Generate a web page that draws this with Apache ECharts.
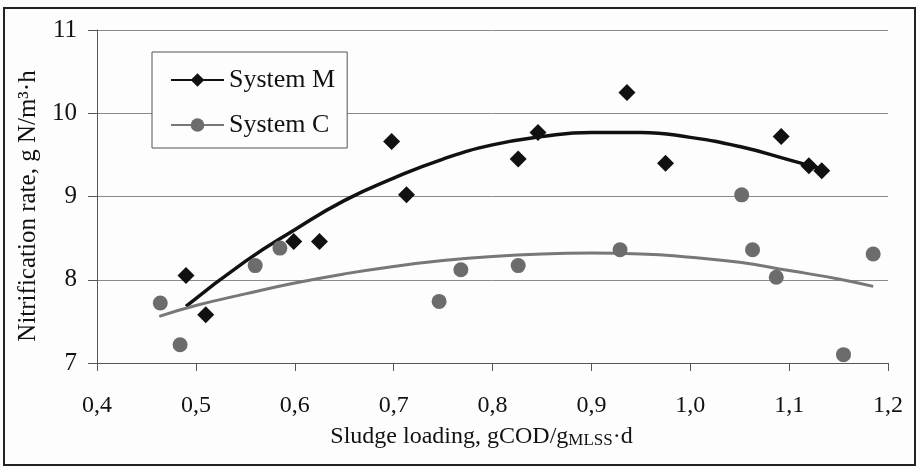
<!DOCTYPE html>
<html>
<head>
<meta charset="utf-8">
<title>Nitrification rate vs sludge loading</title>
<script src="https://cdn.jsdelivr.net/npm/echarts@6/dist/echarts.min.js"></script>
<style>
  html, body { margin: 0; padding: 0; background: #fff; }
  #chart { width: 920px; height: 471px; }
</style>
</head>
<body>
<div id="chart"></div>
<script>
// measured points (sludge loading, nitrification rate)
var loadM = [0.490, 0.510, 0.599, 0.625, 0.698, 0.713, 0.826, 0.846, 0.936, 0.975, 1.092, 1.120, 1.133];
var rateM = [8.05, 7.58, 8.46, 8.46, 9.66, 9.02, 9.45, 9.77, 10.25, 9.40, 9.72, 9.37, 9.31];

var loadC = [0.464, 0.484, 0.560, 0.585, 0.746, 0.768, 0.826, 0.929, 1.052, 1.063, 1.087, 1.155, 1.185];
var rateC = [7.72, 7.22, 8.17, 8.38, 7.74, 8.12, 8.17, 8.36, 9.02, 8.36, 8.03, 7.10, 8.31];

// trend lines
var trendLoadM = [0.49, 0.55, 0.60, 0.65, 0.70, 0.75, 0.80, 0.85, 0.90, 0.95, 1.00, 1.05, 1.10, 1.133];
var trendRateM = [7.68, 8.22, 8.60, 8.95, 9.22, 9.45, 9.62, 9.72, 9.77, 9.77, 9.71, 9.60, 9.44, 9.33];

var trendLoadC = [0.463, 0.50, 0.55, 0.60, 0.65, 0.70, 0.75, 0.80, 0.85, 0.90, 0.95, 1.00, 1.05, 1.10, 1.15, 1.185];
var trendRateC = [7.56, 7.69, 7.83, 7.96, 8.07, 8.16, 8.23, 8.28, 8.31, 8.32, 8.31, 8.27, 8.21, 8.11, 8.01, 7.92];

function pairs(xs, ys) {
  var out = [];
  for (var i = 0; i < xs.length; i++) out.push([xs[i], ys[i]]);
  return out;
}

var serif = '"Liberation Serif", "DejaVu Serif", serif';
var black = '#111';
var grey = '#6c6c6c';

var myChart = echarts.init(document.getElementById('chart'));
var option = {
  backgroundColor: '#fdfdfd',
  animation: false,
  textStyle: { fontFamily: serif, color: black },
  grid: { left: 97, right: 32, top: 30, bottom: 108, containLabel: false },
  graphic: [{
    type: 'rect',
    shape: { x: 4, y: 8, width: 911, height: 457 },
    style: { fill: 'none', stroke: '#222', lineWidth: 2 },
    silent: true
  }],
  legend: {
    left: 152, top: 52,
    orient: 'vertical',
    data: ['System M', 'System C'],
    itemWidth: 53, itemHeight: 17,
    itemGap: 19,
    padding: [15, 12, 10, 18],
    borderColor: '#555', borderWidth: 1,
    backgroundColor: '#fdfdfd',
    textStyle: { fontFamily: serif, fontSize: 26, color: black }
  },
  xAxis: {
    type: 'value',
    min: 0.4, max: 1.2, interval: 0.1,
    name: 'Sludge loading, gCOD/g{s|MLSS}·d',
    nameLocation: 'middle', nameGap: 62,
    nameTextStyle: {
      fontFamily: serif, fontSize: 24, color: black, padding: [0, 22, 0, 0],
      rich: { s: { fontFamily: serif, fontSize: 17, color: black, verticalAlign: 'bottom', padding: [7, 0, 0, 0] } }
    },
    axisLine: { lineStyle: { color: '#555', width: 1 } },
    axisTick: { show: true, length: 8, inside: false, lineStyle: { color: '#555' } },
    axisLabel: {
      fontFamily: serif, fontSize: 24, color: black, margin: 31,
      formatter: function (v) { return v.toFixed(1).replace('.', ','); }
    },
    splitLine: { show: false }
  },
  yAxis: {
    type: 'value',
    min: 7, max: 11, interval: 1,
    name: 'Nitrification rate, g N/m³·h',
    nameLocation: 'middle', nameGap: 50,
    nameTextStyle: { fontFamily: serif, fontSize: 25, color: black, padding: [0, 19, 0, 0] },
    axisLine: { show: true, lineStyle: { color: '#555', width: 1 } },
    axisTick: { show: true, length: 9, lineStyle: { color: '#555' } },
    axisLabel: { fontFamily: serif, fontSize: 25, color: black, margin: 20 },
    splitLine: { show: true, lineStyle: { color: '#8a8a8a', width: 1 } }
  },
  series: [
    {
      name: 'System M',
      type: 'line',
      data: pairs(trendLoadM, trendRateM),
      smooth: true,
      showSymbol: false,
      symbol: 'diamond', symbolSize: 16,
      lineStyle: { color: black, width: 3.5 },
      itemStyle: { color: black },
      z: 2
    },
    {
      name: 'System C',
      type: 'line',
      data: pairs(trendLoadC, trendRateC),
      smooth: true,
      showSymbol: false,
      symbol: 'circle', symbolSize: 15,
      lineStyle: { color: '#777', width: 3 },
      itemStyle: { color: grey },
      z: 2
    },
    {
      name: 'System M',
      type: 'scatter',
      data: pairs(loadM, rateM),
      symbol: 'diamond', symbolSize: 17,
      itemStyle: { color: black, opacity: 1 },
      z: 4
    },
    {
      name: 'System C',
      type: 'scatter',
      data: pairs(loadC, rateC),
      symbol: 'circle', symbolSize: 15,
      itemStyle: { color: grey, opacity: 1 },
      z: 3
    }
  ]
};
myChart.setOption(option);
</script>
</body>
</html>
